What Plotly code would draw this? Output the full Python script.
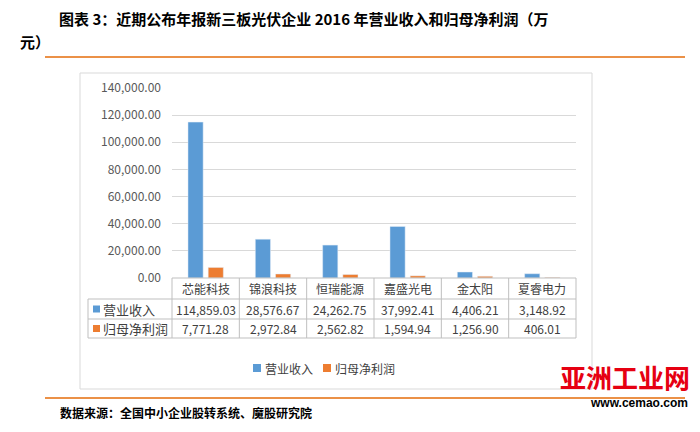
import plotly.graph_objects as go

categories = ['芯能科技', '锦浪科技', '恒瑞能源', '嘉盛光电', '金太阳', '夏睿电力']
revenue = [114859.03, 28576.67, 24262.75, 37992.41, 4406.21, 3148.92]
profit = [7771.28, 2972.84, 2562.82, 1594.94, 1256.90, 406.01]
series_names = ['营业收入', '归母净利润']
blue = '#5B9BD5'
orange = '#ED7D31'

# window pixels; the page body has an 8px margin, so the figure is 8px smaller
OFF = 8
W, H = 700 - OFF, 432 - OFF
L, R, T, B = 172, 576, 88, 278  # plot area in window pixels
def px(x): return (x - L) / (R - L)
def py(y): return (B - y) / (B - T)

fig = go.Figure()
fig.add_trace(go.Bar(x=categories, y=revenue, name=series_names[0], marker_color=blue))
fig.add_trace(go.Bar(x=categories, y=profit, name=series_names[1], marker_color=orange))

shapes = []
ann = []
grey = '#BFBFBF'
font = dict(family='Noto Sans CJK SC', size=12, color='#404040')

# outer box
shapes.append(dict(type='rect', xref='paper', yref='paper', x0=px(80), x1=px(592), y0=py(389), y1=py(73),
                   line=dict(color='#D9D9D9', width=1)))
# data table grid
for yy in [278, 299, 319, 338]:
    x0 = L if yy == 278 else 88
    shapes.append(dict(type='line', xref='paper', yref='paper', x0=px(x0), x1=px(R), y0=py(yy), y1=py(yy),
                       line=dict(color=grey, width=1)))
for i in range(7):
    xx = L + i * (R - L) / 6
    shapes.append(dict(type='line', xref='paper', yref='paper', x0=px(xx), x1=px(xx), y0=py(278), y1=py(338),
                       line=dict(color=grey, width=1)))
shapes.append(dict(type='line', xref='paper', yref='paper', x0=px(88), x1=px(88), y0=py(299), y1=py(338),
                   line=dict(color=grey, width=1)))
for i, c in enumerate(categories):
    for yy, txt in [(288.5, c), (309, f'{revenue[i]:,.2f}'), (328.5, f'{profit[i]:,.2f}')]:
        ann.append(dict(x=c, xref='x', y=py(yy), yref='paper', text=txt, showarrow=False,
                        yanchor='middle', font=font))
for j, (nm, col) in enumerate(zip(series_names, [blue, orange])):
    yy = 309 + 19.5 * j
    shapes.append(dict(type='rect', xref='paper', yref='paper', x0=px(93), x1=px(100), y0=py(yy + 3.5), y1=py(yy - 3.5),
                       fillcolor=col, line=dict(width=0)))
    ann.append(dict(x=px(101), xref='paper', y=py(yy), yref='paper', text=nm, showarrow=False,
                    xanchor='left', yanchor='middle', font=dict(font, size=13)))

# legend (drawn by hand for tight spacing)
for j, (nm, col, xx) in enumerate(zip(series_names, [blue, orange], [253, 323])):
    shapes.append(dict(type='rect', xref='paper', yref='paper', x0=px(xx), x1=px(xx + 8), y0=py(372), y1=py(364),
                       fillcolor=col, line=dict(width=0)))
    ann.append(dict(x=px(xx + 10), xref='paper', y=py(368), yref='paper', text=nm, showarrow=False,
                    xanchor='left', yanchor='middle', font=font))

# title, rules, source, watermark
tfont = dict(family='Noto Sans CJK SC', size=15, color='black')
ann.append(dict(x=px(57), xref='paper', y=py(18), yref='paper', xanchor='left', yanchor='middle', showarrow=False,
                text='<b>图表 3：近期公布年报新三板光伏企业 2016 年营业收入和归母净利润（万</b>', font=tfont))
ann.append(dict(x=px(18), xref='paper', y=py(42), yref='paper', xanchor='left', yanchor='middle', showarrow=False,
                text='<b>元）</b>', font=tfont))
ann.append(dict(x=px(58), xref='paper', y=py(412), yref='paper', xanchor='left', yanchor='middle', showarrow=False,
                text='<b>数据来源：全国中小企业股转系统、魔股研究院</b>',
                font=dict(family='Noto Sans CJK SC', size=12, color='black')))
ann.append(dict(x=px(692), xref='paper', y=py(376), yref='paper', xanchor='right', yanchor='middle', showarrow=False,
                text='<b>亚洲工业网</b>', font=dict(family='Noto Sans CJK SC', size=26, color='#E60012')))
ann.append(dict(x=px(690), xref='paper', y=py(403), yref='paper', xanchor='right', yanchor='middle', showarrow=False,
                text='<b>www.cemao.com</b>', font=dict(family='Arial', size=12, color='black')))
for yy in [57, 398]:
    shapes.append(dict(type='line', xref='paper', yref='paper', x0=px(45), x1=px(685), y0=py(yy), y1=py(yy),
                       line=dict(color='#E46C0A', width=1.5)))

fig.update_layout(
    width=W, height=H,
    margin=dict(l=L - OFF, r=W - (R - OFF), t=T - OFF, b=H - (B - OFF), pad=0),
    plot_bgcolor='white', paper_bgcolor='white',
    barmode='group', bargap=0.4, bargroupgap=0.25,
    showlegend=False,
    xaxis=dict(showticklabels=False, showline=False, ticks=''),
    yaxis=dict(range=[0, 140000], dtick=20000, tickformat=',.2f', gridcolor='#D9D9D9', ticklabelstandoff=10,
               showline=False, zeroline=False, tickfont=dict(family='Noto Sans CJK SC', size=12, color='#595959')),
    shapes=shapes, annotations=ann,
)

fig.write_html('out.html')
